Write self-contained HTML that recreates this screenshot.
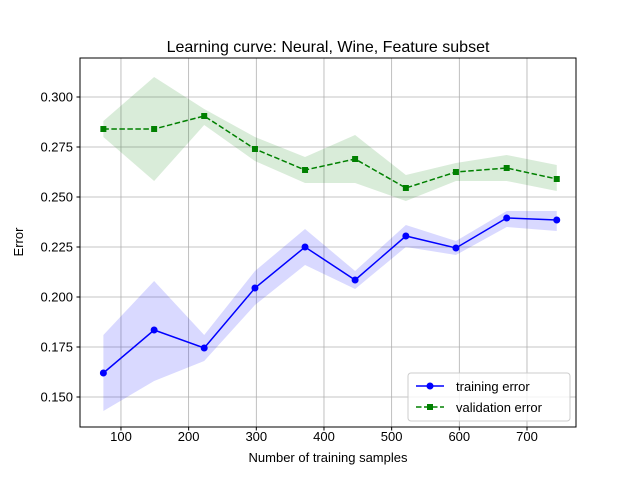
<!DOCTYPE html>
<html><head><meta charset="utf-8"><style>body{margin:0;background:#fff}svg text{font-family:"Liberation Sans","DejaVu Sans",sans-serif;fill:#000}</style></head>
<body>
<svg id="chart" width="640" height="480" xmlns="http://www.w3.org/2000/svg">
<rect width="640" height="480" fill="#fff"/>
<g id="grid"></g>
<g id="bands"></g>
<g id="lines"></g>
<rect x="80" y="58" width="496" height="369" fill="none" stroke="#000" stroke-width="1"/>
<g id="ticks"></g>
<text x="328" y="52" font-size="16" text-anchor="middle">Learning curve: Neural, Wine, Feature subset</text>
<text x="328" y="462" font-size="13" text-anchor="middle">Number of training samples</text>
<text transform="translate(23,242) rotate(-90)" font-size="13" text-anchor="middle">Error</text>
<g>
<rect x="408" y="373" width="162" height="48" rx="3" fill="#fff" fill-opacity="0.8" stroke="#ccc"/>
<line x1="416" y1="386" x2="444" y2="386" stroke="#0000ff" stroke-width="1.5"/><circle cx="430" cy="386" r="3.5" fill="#0000ff"/>
<text x="456" y="391" font-size="13">training error</text>
<line x1="416" y1="407" x2="444" y2="407" stroke="#008000" stroke-width="1.5" stroke-dasharray="5.5,2.5"/><rect x="427" y="404" width="6" height="6" fill="#008000"/>
<text x="456" y="412" font-size="13">validation error</text>
</g>
</svg>
<script>
const sizes=[74,149,223,298,372,446,521,595,670,744];
const trainErr=[0.162,0.1835,0.1745,0.2045,0.225,0.2085,0.2305,0.2245,0.2395,0.2385];
const trainUpper=[0.181,0.208,0.181,0.213,0.234,0.213,0.236,0.228,0.243,0.243];
const trainLower=[0.143,0.158,0.168,0.196,0.216,0.204,0.225,0.221,0.235,0.233];
const valErr=[0.284,0.284,0.2905,0.274,0.2635,0.269,0.2545,0.2625,0.2645,0.259];
const valUpper=[0.288,0.310,0.294,0.280,0.270,0.281,0.261,0.267,0.271,0.266];
const valLower=[0.280,0.258,0.286,0.268,0.257,0.257,0.248,0.258,0.258,0.253];
const xTicks=[100,200,300,400,500,600,700];
const yTicks=[0.150,0.175,0.200,0.225,0.250,0.275,0.300];
const NS="http://www.w3.org/2000/svg";
const X=v=>53.3+v*0.6767, Y=v=>397-(v-0.15)*2000;
function mk(t,a,p){const e=document.createElementNS(NS,t);for(const k in a)e.setAttribute(k,a[k]);document.getElementById(p).appendChild(e);return e;}
xTicks.forEach(t=>{const x=X(t);
 let g=mk('line',{x1:x,x2:x,y1:58,y2:427,stroke:'#b0b0b0','stroke-width':0.8},'grid');
 
 
 mk('line',{x1:x,x2:x,y1:427,y2:430.5,stroke:'#000'},'ticks');
 let l=mk('text',{x:x,y:441,'font-size':13,'text-anchor':'middle'},'ticks');l.textContent=t;
 
 });
yTicks.forEach(t=>{const y=Y(t);
 let g=mk('line',{x1:80,x2:576,y1:y,y2:y,stroke:'#b0b0b0','stroke-width':0.8},'grid');
 
 
 mk('line',{x1:76.5,x2:80,y1:y,y2:y,stroke:'#000'},'ticks');
 let l=mk('text',{x:73,y:y+4.5,'font-size':13,'text-anchor':'end'},'ticks');l.textContent=t.toFixed(3);
 
 });
function band(up,lo,col,name){const pts=sizes.map((s,i)=>X(s)+','+Y(up[i])).concat(sizes.map((s,i)=>X(s)+','+Y(lo[i])).reverse());
 const p=mk('polygon',{points:pts.join(' '),fill:col,'fill-opacity':0.15},'bands');
 
 }
band(trainUpper,trainLower,'#0000ff','training-error-band');
band(valUpper,valLower,'#008000','validation-error-band');
function line(v,col,dash,name,marker){const p=mk('polyline',{points:sizes.map((s,i)=>X(s)+','+Y(v[i])).join(' '),fill:'none',stroke:col,'stroke-width':1.5,'stroke-dasharray':dash},'lines');
 
 
 sizes.forEach((s,i)=>{let m;
  if(marker==='o')m=mk('circle',{cx:X(s),cy:Y(v[i]),r:3.5,fill:col},'lines');
  else m=mk('rect',{x:X(s)-3,y:Y(v[i])-3,width:6,height:6,fill:col},'lines');
  
  });}
line(trainErr,'#0000ff','none','training-error-line','o');
line(valErr,'#008000','5.5,2.5','validation-error-line','s');
</script>
</body></html>
